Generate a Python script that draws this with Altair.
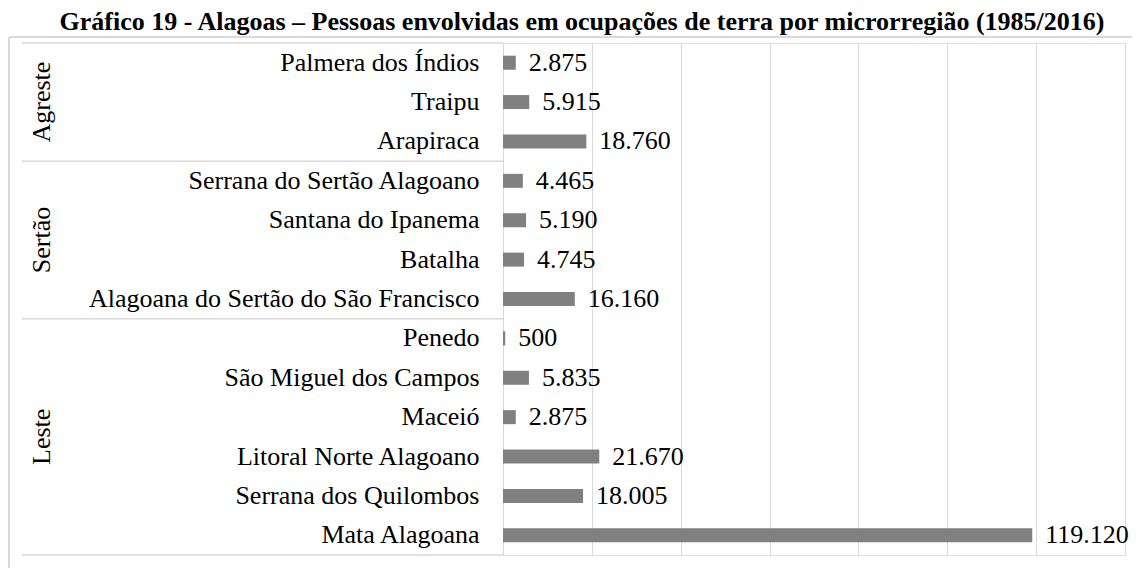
import altair as alt
import pandas as pd

# ---- data ----
groups = ["Agreste"] * 3 + ["Sertão"] * 4 + ["Leste"] * 6
categories = [
    "Palmera dos Índios", "Traipu", "Arapiraca",
    "Serrana do Sertão Alagoano", "Santana do Ipanema", "Batalha",
    "Alagoana do Sertão do São Francisco",
    "Penedo", "São Miguel dos Campos", "Maceió", "Litoral Norte Alagoano",
    "Serrana dos Quilombos", "Mata Alagoana",
]
values = [2875, 5915, 18760, 4465, 5190, 4745, 16160, 500, 5835, 2875, 21670, 18005, 119120]
x_ticks = [0, 20000, 40000, 60000, 80000, 100000, 120000, 140000]
title_text = "Gráfico 19 - Alagoas – Pessoas envolvidas em ocupações de terra por microrregião (1985/2016)"

FONT = "Liberation Serif"
GRID = "#d9d9d9"

df = pd.DataFrame({"grupo": groups, "micro": categories, "valor": values})
df["rotulo"] = df["valor"].map(lambda v: f"{v:,}".replace(",", "."))

rows = []
for g in dict.fromkeys(groups):
    members = [c for c, gg in zip(categories, groups) if gg == g]
    n = len(members)
    rows.append({"grupo": g, "meio": members[(n - 1) // 2], "par": n % 2 == 0,
                 "primeiro": members[0], "ultimo": members[-1]})
gdf = pd.DataFrame(rows)
last_group = rows[-1]["grupo"]

y_axis = alt.Axis(title=None, ticks=False, domainColor=GRID, labelFont=FONT, labelFontSize=26,
                  labelColor="black", labelPadding=24, labelLimit=0)
y_scale = alt.Scale(domain=categories, paddingInner=0, paddingOuter=0)


def y_enc(field, band=0.5):
    return alt.Y(f"{field}:N", scale=y_scale, axis=y_axis, bandPosition=band)


x_enc = alt.X("valor:Q", scale=alt.Scale(domain=[0, 140000], nice=False, zero=True),
              axis=alt.Axis(values=x_ticks, grid=True, gridColor=GRID, labels=False, ticks=False,
                            domain=False, title=None))

bars = alt.Chart(df).mark_bar(size=14, color="#808080").encode(x=x_enc, y=y_enc("micro"))
labels = alt.Chart(df).mark_text(align="left", baseline="middle", dx=13, font=FONT, fontSize=26,
                                 color="black").encode(x=x_enc, y=y_enc("micro"), text="rotulo:N")

glab_odd = alt.Chart(gdf).transform_filter(alt.datum.par == False).mark_text(
    angle=270, align="center", baseline="alphabetic", font=FONT, fontSize=26, color="black"
).encode(x=alt.value(-453), y=y_enc("meio", 0.5), text="grupo:N")
glab_even = alt.Chart(gdf).transform_filter(alt.datum.par == True).mark_text(
    angle=270, align="center", baseline="alphabetic", font=FONT, fontSize=26, color="black"
).encode(x=alt.value(-453), y=y_enc("meio", 1), text="grupo:N")

sep = alt.Chart(gdf).mark_rule(color=GRID, strokeWidth=1.5).encode(
    x=alt.value(-481), x2=alt.value(0), y=y_enc("primeiro", 0))
sep_bottom = alt.Chart(gdf).transform_filter(alt.datum.grupo == last_group).mark_rule(
    color=GRID, strokeWidth=1.5).encode(x=alt.value(-481), x2=alt.value(0), y=y_enc("ultimo", 1))

frame_df = pd.DataFrame({"borda": ["moldura"]})
frame_top = alt.Chart(frame_df).mark_rule(color=GRID, strokeWidth=2).encode(
    x=alt.value(-494), x2=alt.value(629), y=alt.value(-6))
frame_left = alt.Chart(frame_df).mark_rule(color=GRID, strokeWidth=2).encode(
    x=alt.value(-494), y=alt.value(-6), y2=alt.value(525))

chart = alt.layer(frame_top, frame_left, sep, sep_bottom, bars, labels, glab_odd, glab_even).properties(
    width=622, height=512,
    autosize=alt.AutoSizeParams(type="none"),
    padding={"left": 495, "top": 35, "right": 7, "bottom": 13},
    title=alt.TitleParams(text=title_text, font=FONT, fontSize=26, fontWeight="bold", color="black",
                          anchor="middle", frame="group", dx=-232, dy=20, offset=0, baseline="alphabetic"),
).configure_view(stroke=None).configure(background="white")

chart.save("out.html", embed_options={"renderer": "svg", "actions": False})
